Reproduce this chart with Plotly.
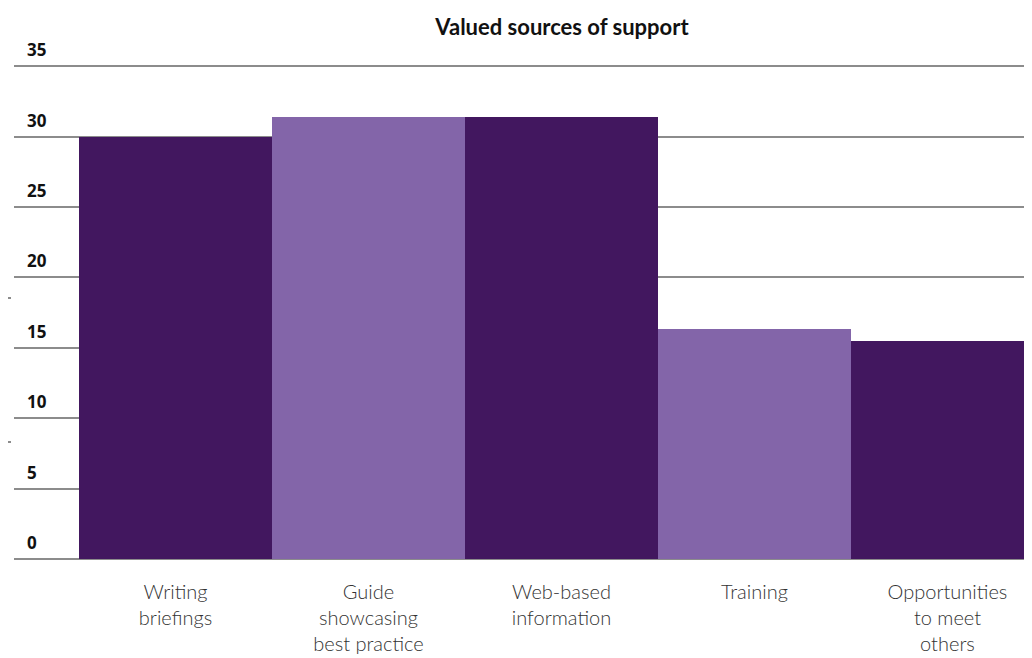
import plotly.graph_objects as go

categories = ["Writing<br>briefings", "Guide<br>showcasing<br>best practice",
              "Web-based<br>information", "Training", "Opportunities<br>to meet<br>others"]
values = [30.0, 31.4, 31.4, 16.3, 15.45]
bar_colors = ["#42175F", "#8365A9", "#42175F", "#8365A9", "#42175F"]
y_ticks = [0, 5, 10, 15, 20, 25, 30, 35]

# page has an 8px body margin; figure sized to fit the window
W, H = 1024, 650
ml, mr, mt, mb = 6, 0, 30, 99

fig = go.Figure(go.Bar(
    x=list(range(len(categories))),
    y=values,
    marker=dict(color=bar_colors, line=dict(width=0)),
    width=1.0,
    hoverinfo="skip",
))

fig.update_layout(
    width=W, height=H,
    margin=dict(l=ml, r=mr, t=mt, b=mb, pad=0, autoexpand=False),
    paper_bgcolor="white", plot_bgcolor="white",
    showlegend=False,
    bargap=0,
    title=dict(text="<b>Valued sources of support</b>", x=(562 - 8) / W, xref="container",
               xanchor="center", y=1 - (27 - 8) / H, yref="container", yanchor="middle",
               font=dict(family="Lato", size=22, color="#111111")),
    font=dict(family="Lato", color="#333333"),
)

fig.update_xaxes(
    tickmode="array",
    tickvals=list(range(len(categories))),
    ticktext=categories,
    range=[-0.837, 4.438],
    showgrid=False, zeroline=False, showline=False, ticks="",
    tickfont=dict(family="Lato", size=20, color="#333333", weight=300),
    ticklabelstandoff=19,
    automargin=False,
)

fig.update_yaxes(
    range=[0, 37],
    tickmode="array",
    tickvals=y_ticks,
    ticktext=[f"<b>{t}</b>" for t in y_ticks],
    showgrid=True, gridcolor="#8c8c8c", gridwidth=1.6,
    zeroline=True, zerolinecolor="#8c8c8c", zerolinewidth=1.6,
    showline=False, ticks="",
    ticklabelposition="inside top",
    ticklabelstandoff=10,
    ticklabelshift=-4,
    tickfont=dict(family="Open Sans", size=17, color="#111111"),
    automargin=False,
)

# small leftover marks at the left edge of the reference
pw = W - ml - mr
ph = H - mt - mb
for yp in (298, 442):
    yy = (H - mb - (yp - 8)) / ph
    fig.add_shape(type="line", xref="paper", yref="paper",
                  x0=(0 - ml) / pw, x1=(3 - ml) / pw, y0=yy, y1=yy,
                  line=dict(color="#8c8c8c", width=2))

fig.write_html("out.html")
